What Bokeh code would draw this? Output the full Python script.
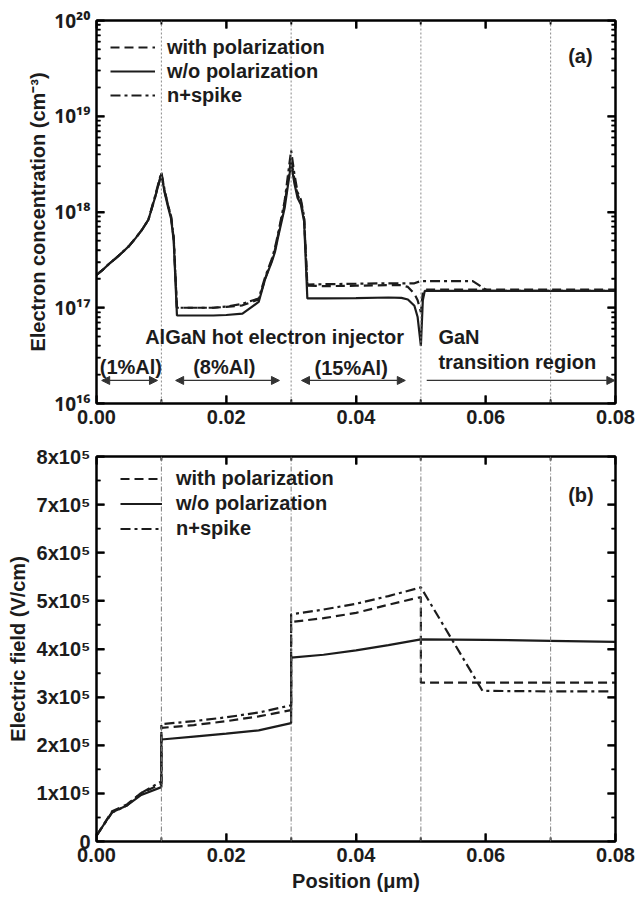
from bokeh.plotting import figure
from bokeh.models import (FixedTicker, CustomJSTickFormatter, LinearAxis, LogAxis, Span,
                          Label, Arrow, NormalHead, Legend, LegendItem)
from bokeh.layouts import column
from bokeh.embed import file_html
from bokeh.resources import INLINE

# ---------------- data: (a) electron concentration ----------------
conc_x_wo = [0, 0.001, 0.002, 0.003, 0.004, 0.005, 0.006, 0.007, 0.008, 0.009, 0.010,
             0.0105, 0.011, 0.0115, 0.0119, 0.0124, 0.015, 0.018, 0.020, 0.0225, 0.025,
             0.026, 0.027, 0.0275, 0.028, 0.029, 0.030, 0.0305, 0.031, 0.0315, 0.032, 0.0325,
             0.035, 0.040, 0.045, 0.047, 0.048, 0.049, 0.0495, 0.050, 0.0503, 0.0506,
             0.055, 0.060, 0.070, 0.080]
conc_wo = [2.2e17, 2.5e17, 2.9e17, 3.3e17, 3.8e17, 4.4e17, 5.3e17, 6.5e17, 8.3e17, 1.4e18, 2.5e18,
           1.6e18, 1.15e18, 8.5e17, 5.0e17, 8.3e16, 8.3e16, 8.3e16, 8.4e16, 8.7e16, 1.15e17,
           2.0e17, 3.0e17, 3.8e17, 5.5e17, 1.1e18, 3.2e18, 2.0e18, 1.4e18, 1.2e18, 8.0e17, 1.25e17,
           1.25e17, 1.26e17, 1.28e17, 1.27e17, 1.22e17, 1.05e17, 8.0e16, 4.0e16, 1.2e17, 1.5e17,
           1.5e17, 1.5e17, 1.5e17, 1.5e17]

conc_x_pol = [0, 0.001, 0.002, 0.003, 0.004, 0.005, 0.006, 0.007, 0.008, 0.009, 0.010,
              0.0105, 0.011, 0.0115, 0.0119, 0.0124, 0.015, 0.018, 0.020, 0.0225, 0.025,
              0.026, 0.027, 0.0275, 0.028, 0.029, 0.030, 0.0305, 0.031, 0.0315, 0.032, 0.0325,
              0.035, 0.040, 0.045, 0.047, 0.048, 0.049, 0.0495, 0.050, 0.0503, 0.0506,
              0.055, 0.060, 0.070, 0.080]
conc_pol = [2.2e17, 2.5e17, 2.9e17, 3.3e17, 3.8e17, 4.4e17, 5.3e17, 6.5e17, 8.3e17, 1.4e18, 2.5e18,
            1.65e18, 1.2e18, 8.8e17, 5.3e17, 1.0e17, 1.0e17, 1.0e17, 1.02e17, 1.06e17, 1.22e17,
            2.0e17, 3.1e17, 4.0e17, 5.8e17, 1.2e18, 3.6e18, 2.2e18, 1.5e18, 1.3e18, 8.5e17, 1.7e17,
            1.68e17, 1.7e17, 1.72e17, 1.72e17, 1.65e17, 1.4e17, 1.2e17, 9.0e16, 1.45e17, 1.55e17,
            1.55e17, 1.55e17, 1.55e17, 1.55e17]

conc_x_spike = [0, 0.001, 0.002, 0.003, 0.004, 0.005, 0.006, 0.007, 0.008, 0.009, 0.010,
                0.0105, 0.011, 0.0115, 0.0119, 0.0124, 0.015, 0.018, 0.020, 0.0225, 0.025,
                0.026, 0.027, 0.0275, 0.028, 0.029, 0.030, 0.0305, 0.031, 0.0315, 0.032, 0.0325,
                0.035, 0.040, 0.045, 0.049, 0.050, 0.055, 0.058, 0.0603, 0.070, 0.080]
conc_spike = [2.2e17, 2.5e17, 2.9e17, 3.3e17, 3.8e17, 4.4e17, 5.3e17, 6.5e17, 8.3e17, 1.45e18, 2.6e18,
              1.7e18, 1.2e18, 9.0e17, 5.5e17, 1.0e17, 1.0e17, 1.0e17, 1.03e17, 1.1e17, 1.25e17,
              2.1e17, 3.2e17, 4.2e17, 6.0e17, 1.3e18, 4.4e18, 2.5e18, 1.6e18, 1.35e18, 9.0e17, 1.75e17,
              1.76e17, 1.78e17, 1.8e17, 1.8e17, 1.9e17, 1.9e17, 1.9e17, 1.5e17, 1.5e17, 1.5e17]

# ---------------- data: (b) electric field ----------------
field_x_wo = [0, 0.0024, 0.0047, 0.0068, 0.010, 0.010, 0.015, 0.020, 0.025, 0.030, 0.030,
              0.035, 0.040, 0.045, 0.050, 0.060, 0.070, 0.080]
field_wo = [0.12e5, 0.61e5, 0.75e5, 0.96e5, 1.13e5, 2.12e5, 2.18e5, 2.24e5, 2.31e5, 2.46e5, 3.82e5,
            3.88e5, 3.97e5, 4.08e5, 4.2e5, 4.19e5, 4.17e5, 4.15e5]

field_x_pol = [0, 0.0024, 0.0047, 0.0068, 0.010, 0.010, 0.015, 0.020, 0.025, 0.030, 0.030,
               0.035, 0.040, 0.045, 0.050, 0.050, 0.060, 0.070, 0.080]
field_pol = [0.12e5, 0.63e5, 0.77e5, 1.0e5, 1.2e5, 2.36e5, 2.42e5, 2.5e5, 2.6e5, 2.73e5, 4.56e5,
             4.64e5, 4.75e5, 4.92e5, 5.08e5, 3.3e5, 3.3e5, 3.3e5, 3.3e5]

field_x_spike = [0, 0.0024, 0.0047, 0.0068, 0.010, 0.010, 0.015, 0.020, 0.025, 0.030, 0.030,
                 0.035, 0.040, 0.045, 0.050, 0.0595, 0.070, 0.0795]
field_spike = [0.12e5, 0.6e5, 0.75e5, 1.0e5, 1.25e5, 2.44e5, 2.5e5, 2.58e5, 2.68e5, 2.83e5, 4.72e5,
               4.82e5, 4.94e5, 5.1e5, 5.28e5, 3.13e5, 3.12e5, 3.12e5]

# ---------------- ticks / labels ----------------
x_ticks = [0.0, 0.02, 0.04, 0.06, 0.08]
x_tick_labels = ["0.00", "0.02", "0.04", "0.06", "0.08"]
x_minor_ticks = [0.01, 0.03, 0.05, 0.07]
conc_ticks = [1e16, 1e17, 1e18, 1e19, 1e20]
conc_tick_labels = ["10\u00b9\u2076", "10\u00b9\u2077", "10\u00b9\u2078", "10\u00b9\u2079", "10\u00b2\u2070"]
field_ticks = [0.0, 1e5, 2e5, 3e5, 4e5, 5e5, 6e5, 7e5, 8e5]
field_tick_labels = ["0", "1x10\u2075", "2x10\u2075", "3x10\u2075", "4x10\u2075",
                     "5x10\u2075", "6x10\u2075", "7x10\u2075", "8x10\u2075"]
field_minor_ticks = [0.5e5, 1.5e5, 2.5e5, 3.5e5, 4.5e5, 5.5e5, 6.5e5, 7.5e5]
region_bounds = [0.01, 0.03, 0.05, 0.07]
series_names = ["with polarization", "w/o polarization", "n+spike"]

FONT = "Liberation Sans"
SUPFONT = "Noto Sans"
FS = "20px"
INK = "#1c1c1c"
LW = 2.2
DASH = "9 5"
DASHDOT = "10 4 3 4"
NAN = float("nan")

conc_minor = [float(m) * 10.0 ** e for e in range(16, 20) for m in range(2, 10)]

FW = 519              # frame width (px)
FH1, FH2 = 383, 385   # frame heights (px)
MAJ, MIN = 8, 4       # inward tick lengths (px)


def fmt(ticks, labels):
    return CustomJSTickFormatter(args=dict(tv=ticks, lv=labels), code="""
        const i = tv.findIndex(t => Math.abs(t - tick) <= 1e-9 * Math.abs(t) + 1e-15);
        return i >= 0 ? lv[i] : '';
    """)


def blank_fmt():
    return CustomJSTickFormatter(code="return ' ';")


def style_axis(ax, show_labels=True):
    ax.axis_line_width = 2
    ax.axis_line_color = "black"
    ax.major_tick_in = MAJ
    ax.major_tick_out = 0
    ax.minor_tick_in = MIN
    ax.minor_tick_out = 0
    ax.major_tick_line_width = 2
    ax.minor_tick_line_width = 1.5
    ax.major_label_text_font = FONT
    ax.major_label_text_font_style = "bold"
    ax.major_label_text_color = INK
    ax.axis_label_text_font = FONT
    ax.axis_label_text_font_style = "bold"
    ax.axis_label_text_font_size = FS
    ax.axis_label_text_color = INK
    if show_labels:
        ax.major_label_text_font_size = FS
    else:
        ax.major_label_text_font_size = "2px"
        ax.major_label_standoff = 0
        ax.formatter = blank_fmt()


def base_fig(height, top, bottom, y_range, y_type):
    p = figure(width=635, height=height, x_range=(0, 0.08), y_range=y_range, y_axis_type=y_type,
               output_backend="svg", toolbar_location=None,
               min_border_left=96, min_border_right=20, min_border_top=top, min_border_bottom=bottom)
    p.grid.visible = False
    p.outline_line_color = "black"
    p.outline_line_width = 2
    p.background_fill_color = "white"
    p.border_fill_color = "white"
    return p


def draw_ticks(p, x_lo, x_hi, y_lo, y_hi, ymaj, ymin, log, fh):
    """Inward tick marks on all four sides (NaN-separated lines), at the tick arrays' values."""
    def ystep(y0, px, up):
        if log:
            f = 10 ** (4.0 * px / fh)
            return y0 * f if up else y0 / f
        d = (y_hi - y_lo) * px / fh
        return y0 + d if up else y0 - d

    def xstep(px):
        return (x_hi - x_lo) * px / FW

    groups = [("x", x_ticks, MAJ, 2.0), ("x", x_minor_ticks, MIN, 1.5),
              ("y", ymaj, MAJ, 2.0), ("y", ymin, MIN, 1.5)]
    for kind, ticks, ln, w in groups:
        xs, ys = [], []
        for t in ticks:
            if kind == "x":
                xs += [t, t, NAN, t, t, NAN]
                ys += [y_lo, ystep(y_lo, ln, True), NAN, y_hi, ystep(y_hi, ln, False), NAN]
            else:
                xs += [x_lo, x_lo + xstep(ln), NAN, x_hi, x_hi - xstep(ln), NAN]
                ys += [t, t, NAN, t, t, NAN]
        p.line(xs, ys, line_color="#111111", line_width=w)


x_ticker = FixedTicker(ticks=x_ticks, minor_ticks=x_minor_ticks)

# ================= (a) =================
p1 = base_fig(440, 20, 37, (1e16, 1e20), "log")
conc_ticker = FixedTicker(ticks=conc_ticks, minor_ticks=conc_minor)
p1.xaxis.ticker = x_ticker
p1.xaxis.formatter = fmt(x_ticks, x_tick_labels)
p1.yaxis.ticker = conc_ticker
p1.yaxis.formatter = fmt(conc_ticks, conc_tick_labels)
p1.yaxis.axis_label = "Electron concentration (cm\u207b\u00b3)"
for ax in p1.xaxis + p1.yaxis:
    style_axis(ax)
p1.yaxis.major_label_text_font = SUPFONT
p1.yaxis.major_label_text_font_size = "19px"
p1.xaxis.major_label_standoff = 6
p1.yaxis.major_label_standoff = 6
p1.yaxis.axis_label_standoff = 2
ax_r = LogAxis(ticker=conc_ticker)
style_axis(ax_r, False)
p1.add_layout(ax_r, "right")
ax_t = LinearAxis(ticker=x_ticker)
style_axis(ax_t, False)
p1.add_layout(ax_t, "above")

for xb in region_bounds:
    p1.add_layout(Span(location=xb, dimension="height", line_color="#8a8a8a",
                       line_width=1, line_dash="2 2"))

draw_ticks(p1, 0.0, 0.08, 1e16, 1e20, conc_ticks, conc_minor, True, FH1)

r1a = p1.line(conc_x_pol, conc_pol, line_color=INK, line_width=LW, line_dash=DASH)
r1b = p1.line(conc_x_wo, conc_wo, line_color=INK, line_width=LW)
r1c = p1.line(conc_x_spike, conc_spike, line_color=INK, line_width=LW, line_dash=DASHDOT)

leg1 = Legend(items=[LegendItem(label=series_names[0], renderers=[r1a]),
                     LegendItem(label=series_names[1], renderers=[r1b]),
                     LegendItem(label=series_names[2], renderers=[r1c])],
              location=(14, 296), margin=0, padding=0, spacing=0,
              label_height=24, glyph_height=24, glyph_width=45, label_standoff=12,
              label_text_font=FONT, label_text_font_style="bold", label_text_font_size=FS,
              label_text_color=INK, background_fill_alpha=0, border_line_alpha=0)
p1.add_layout(leg1)


def lab(p, x, y, text, align="left"):
    p.add_layout(Label(x=x, y=y, text=text, text_font=FONT, text_font_style="bold",
                       text_font_size=FS, text_color=INK, text_baseline="middle", text_align=align))


lab(p1, 0.0727, 4.3e19, "(a)")
lab(p1, 0.0075, 4.9e16, "AlGaN hot electron injector")
lab(p1, 0.0527, 4.9e16, "GaN")
lab(p1, 0.0527, 2.7e16, "transition region")
lab(p1, 0.0005, 2.38e16, "(1%Al)")
lab(p1, 0.0149, 2.38e16, "(8%Al)")
lab(p1, 0.0336, 2.35e16, "(15%Al)")

ay = 1.74e16
for xs, xe, both in [(0.0008, 0.0094, True), (0.0122, 0.0282, True),
                     (0.0316, 0.0476, True), (0.0509, 0.0799, False)]:
    kw = dict(x_start=xs, y_start=ay, x_end=xe, y_end=ay, line_color="#333", line_width=1.3,
              end=NormalHead(size=8, fill_color="#333", line_color="#333"))
    if both:
        kw["start"] = NormalHead(size=8, fill_color="#333", line_color="#333")
    p1.add_layout(Arrow(**kw))

# ================= (b) =================
p2 = base_fig(459, 16, 58, (0, 8e5), "linear")
field_ticker = FixedTicker(ticks=field_ticks, minor_ticks=field_minor_ticks)
p2.xaxis.ticker = x_ticker
p2.xaxis.formatter = fmt(x_ticks, x_tick_labels)
p2.yaxis.ticker = field_ticker
p2.yaxis.formatter = fmt(field_ticks, field_tick_labels)
p2.yaxis.axis_label = "Electric field (V/cm)"
p2.xaxis.axis_label = "Position (\u03bcm)"
for ax in p2.xaxis + p2.yaxis:
    style_axis(ax)
p2.xaxis.major_label_standoff = 6
p2.yaxis.major_label_standoff = 6
p2.yaxis.axis_label_standoff = 5
p2.xaxis.axis_label_standoff = 5
ax_r2 = LinearAxis(ticker=field_ticker)
style_axis(ax_r2, False)
p2.add_layout(ax_r2, "right")
ax_t2 = LinearAxis(ticker=x_ticker)
style_axis(ax_t2, False)
p2.add_layout(ax_t2, "above")

for xb in region_bounds:
    p2.add_layout(Span(location=xb, dimension="height", line_color="#7a7a7a",
                       line_width=1, line_dash="5 2 1 2"))

draw_ticks(p2, 0.0, 0.08, 0.0, 8e5, field_ticks, field_minor_ticks, False, FH2)

r2a = p2.line(field_x_pol, field_pol, line_color=INK, line_width=LW, line_dash=DASH)
r2b = p2.line(field_x_wo, field_wo, line_color=INK, line_width=LW)
r2c = p2.line(field_x_spike, field_spike, line_color=INK, line_width=LW, line_dash=DASHDOT)

leg2 = Legend(items=[LegendItem(label=series_names[0], renderers=[r2a]),
                     LegendItem(label=series_names[1], renderers=[r2b]),
                     LegendItem(label=series_names[2], renderers=[r2c])],
              location=(24, 300), margin=0, padding=0, spacing=0,
              label_height=25, glyph_height=25, glyph_width=42, label_standoff=14,
              label_text_font=FONT, label_text_font_style="bold", label_text_font_size=FS,
              label_text_color=INK, background_fill_alpha=0, border_line_alpha=0)
p2.add_layout(leg2)

lab(p2, 0.0727, 7.19e5, "(b)")

layout = column(p1, p2, spacing=0)
open("out.html", "w").write(file_html(layout, INLINE))
